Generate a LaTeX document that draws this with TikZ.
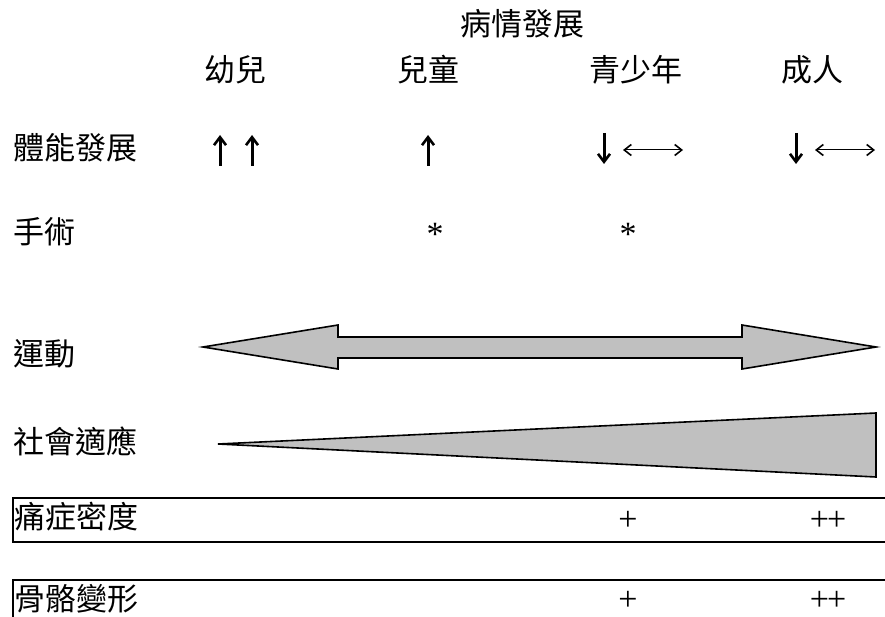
\documentclass[tikz,border=0pt]{standalone}
\usepackage{fontspec}
\setmainfont{Liberation Serif}
\newfontfamily\cjk{Noto Sans CJK TC}
\usetikzlibrary{arrows.meta}
\definecolor{shapegray}{HTML}{C0C0C0}
\tikzset{
  cjklabel/.style={inner sep=0pt, font=\cjk\fontsize{31}{36}\selectfont, text height=0.88em, text depth=0.12em, yshift=-5pt},
  rowlabel/.style={cjklabel, anchor=west},
  startext/.style={inner sep=0pt, font=\fontsize{34}{40}\selectfont},
  plustext/.style={inner sep=0pt, font=\fontsize{34}{40}\selectfont, text height=0.5em, text depth=0pt},
  boldarrow/.style={line width=3pt, -{Straight Barb[length=8pt,width=12pt,line width=2.6pt]}},
  thinarrow/.style={line width=1pt, {Straight Barb[length=7pt,width=11pt,line width=1.6pt]}-{Straight Barb[length=7pt,width=11pt,line width=1.6pt]}},
  bigshape/.style={draw=black, fill=shapegray, line width=1.6pt, line join=miter},
  rowbox/.style={draw=black, line width=1.8pt}
}
\begin{document}
\begin{tikzpicture}[x=1pt,y=-1pt]
\useasboundingbox (0,0) rectangle (885,617);
\clip (0,0) rectangle (885,617);

% header
\node[cjklabel] (title) at (522,27) {病情發展};
\node[cjklabel] (infant) at (235,73) {幼兒};
\node[cjklabel] (child) at (428,73) {兒童};
\node[cjklabel] (teen) at (636,73) {青少年};
\node[cjklabel] (adult) at (812,73) {成人};

% row labels
\node[rowlabel] (physical) at (13,151) {體能發展};
\node[rowlabel] (surgery) at (13,235) {手術};
\node[rowlabel] (sport) at (13,357) {運動};
\node[rowlabel] (social) at (13,445) {社會適應};

% row boxes
\draw[rowbox] (13,498) rectangle (900,542);
\draw[rowbox] (13,580) rectangle (900,640);
\node[rowlabel] (pain) at (14,520) {痛症密度};
\node[rowlabel] (bone) at (14,602) {骨骼變形};

% physical development arrows
\coordinate (u1a) at (220,166); \coordinate (u1b) at (220,135);
\coordinate (u2a) at (252,166); \coordinate (u2b) at (252,135);
\coordinate (u3a) at (428,166); \coordinate (u3b) at (428,135);
\coordinate (d1a) at (604,133); \coordinate (d1b) at (604,164);
\coordinate (d2a) at (796,133); \coordinate (d2b) at (796,164);
\coordinate (h1a) at (623,150); \coordinate (h1b) at (683,150);
\coordinate (h2a) at (815,150); \coordinate (h2b) at (875,150);
\draw[boldarrow] (u1a) -- (u1b);
\draw[boldarrow] (u2a) -- (u2b);
\draw[boldarrow] (u3a) -- (u3b);
\draw[boldarrow] (d1a) -- (d1b);
\draw[boldarrow] (d2a) -- (d2b);
\draw[thinarrow] (h1a) -- (h1b);
\draw[thinarrow] (h2a) -- (h2b);

% surgery marks
\node[startext] (star1) at (435,234) {*};
\node[startext] (star2) at (628,234) {*};

% sport double arrow
\draw[bigshape] (203,347) -- (338,325) -- (338,337) -- (742,337) -- (742,325)
  -- (876,347) -- (742,369) -- (742,358) -- (338,358) -- (338,369) -- cycle;

% social wedge
\draw[bigshape] (218,444) -- (876,413) -- (876,477) -- cycle;

% plus signs
\node[plustext] (p1) at (628,528) {+};
\node[plustext] (p2) at (828,528) {+\kern-2pt+};
\node[plustext] (p3) at (628,608) {+};
\node[plustext] (p4) at (828,608) {+\kern-2pt+};
\end{tikzpicture}
\end{document}
